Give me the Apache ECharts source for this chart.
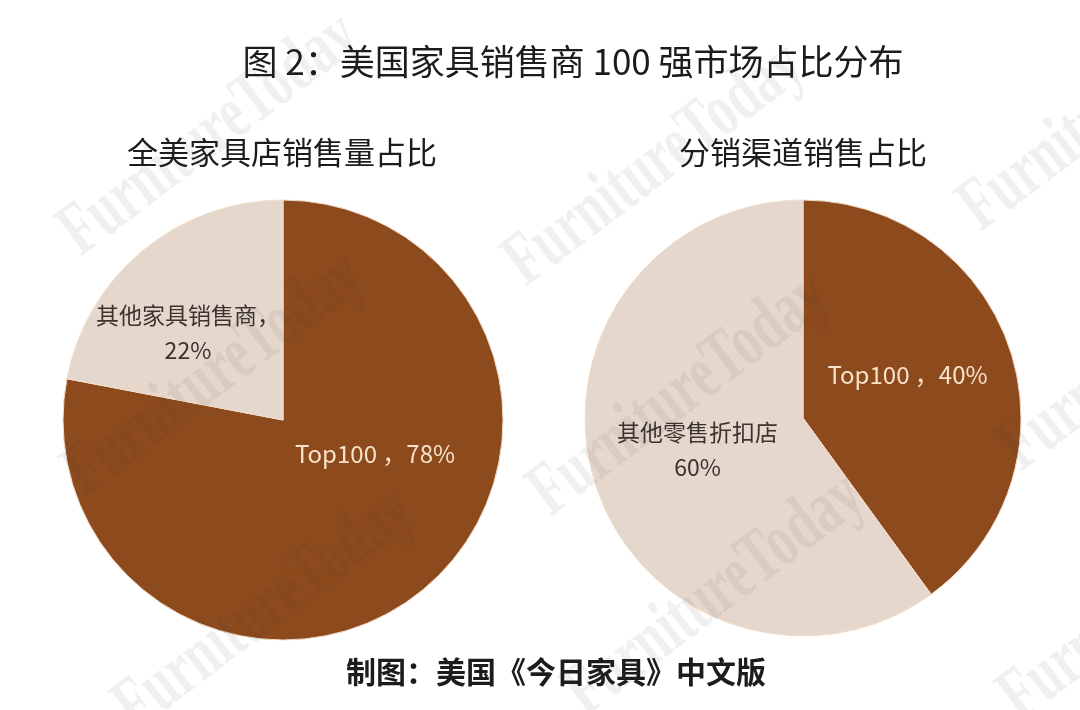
<!DOCTYPE html>
<html>
<head>
<meta charset="utf-8">
<script src="https://cdn.jsdelivr.net/npm/echarts@6/dist/echarts.min.js"></script>
<style>
html,body{margin:0;padding:0;background:#fff;}
#chart{width:1080px;height:710px;}
</style>
</head>
<body>
<div id="chart"></div>
<script>
// ---- data ----
var mainTitle = '图 2：美国家具销售商 100 强市场占比分布';
var footerText = '制图：美国《今日家具》中文版';
var pie1Title = '全美家具店销售量占比';
var pie1Names = ['Top100', '其他家具销售商'];
var pie1Values = [78, 22];
var pie2Title = '分销渠道销售占比';
var pie2Names = ['Top100', '其他零售折扣店'];
var pie2Values = [40, 60];
var watermarkText = 'FurnitureToday';

var DARK = '#8D4A1D';
var LIGHT = '#E6D7CD';
var FONT = '"Noto Sans CJK SC", "Noto Sans", sans-serif';

var chart = echarts.init(document.getElementById('chart'), null, {renderer: 'canvas'});

function labelStyle(color, offset, size) {
  return {
    show: true, position: 'inside', color: color, fontSize: size,
    fontFamily: FONT, lineHeight: 35, offset: offset, align: 'center'
  };
}

var pie1Data = [
  {name: pie1Names[0], value: pie1Values[0], itemStyle: {color: DARK},
   label: Object.assign(labelStyle('#F7E2CC', [20, -53], 24), {formatter: function(p){return p.name + ' ，' + p.value + '%';}})},
  {name: pie1Names[1], value: pie1Values[1], itemStyle: {color: LIGHT},
   label: Object.assign(labelStyle('#3a3330', [-23, 0], 23), {formatter: function(p){return p.name + '，\n' + p.value + '%';}})}
];
var pie2Data = [
  {name: pie2Names[0], value: pie2Values[0], itemStyle: {color: DARK},
   label: Object.assign(labelStyle('#F7E2CC', [-2, -9], 24), {formatter: function(p){return p.name + ' ，' + p.value + '%';}})},
  {name: pie2Names[1], value: pie2Values[1], itemStyle: {color: LIGHT},
   label: Object.assign(labelStyle('#3a3330', [1, -3], 23), {formatter: function(p){return p.name + '\n' + p.value + '%';}})}
];

var wmPositions = [[210,135],[215,375],[265,610],[655,165],[680,395],[715,595],[1110,110],[1150,350],[1150,600]];
var graphics = [
  {type:'text', x:573, y:62, z:20, style:{text:mainTitle, font:'normal 35px ' + FONT, fill:'#1c1c1c', textAlign:'center', textVerticalAlign:'middle'}},
  {type:'text', x:282, y:152, z:20, style:{text:pie1Title, font:'normal 31px ' + FONT, fill:'#1c1c1c', textAlign:'center', textVerticalAlign:'middle'}},
  {type:'text', x:803, y:152, z:20, style:{text:pie2Title, font:'normal 31px ' + FONT, fill:'#1c1c1c', textAlign:'center', textVerticalAlign:'middle'}},
  {type:'text', x:556, y:672, z:20, style:{text:footerText, font:'bold 30px ' + FONT, fill:'#1c1c1c', textAlign:'center', textVerticalAlign:'middle'}}
];
wmPositions.forEach(function(p){
  graphics.push({type:'text', x:p[0], y:p[1], z:50, silent:true, rotation: 37*Math.PI/180, scaleX:0.68,
    style:{text:watermarkText, font:'bold 76px "Liberation Serif", "DejaVu Serif", serif', fill:'rgba(60,60,60,0.08)', textAlign:'center', textVerticalAlign:'middle'}});
});

chart.setOption({
  backgroundColor: '#ffffff',
  animation: false,
  graphic: {elements: graphics},
  series: [
    {type:'pie', center:[283,420], radius:220, startAngle:90, clockwise:true,
     itemStyle:{borderColor:'#F2DFCB', borderWidth:1}, labelLine:{show:false},
     emphasis:{disabled:true}, data: pie1Data},
    {type:'pie', center:[803,418], radius:218, startAngle:90, clockwise:true,
     itemStyle:{borderColor:'#F2DFCB', borderWidth:1}, labelLine:{show:false},
     emphasis:{disabled:true}, data: pie2Data}
  ]
});
</script>
</body>
</html>
